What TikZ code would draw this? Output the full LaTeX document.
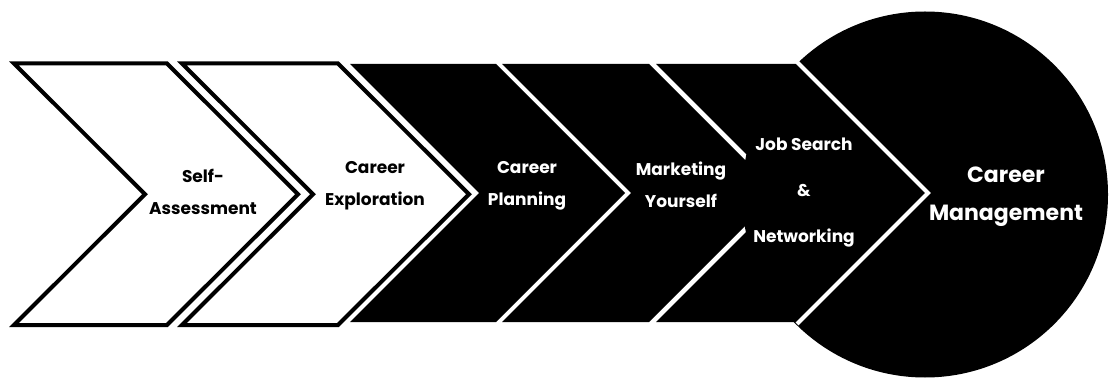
\documentclass[tikz,border=0pt]{standalone}
\usepackage{fontspec}
\setmainfont{Poppins}
\begin{document}
\begin{tikzpicture}[x=1pt,y=-1pt,
  wchev/.style={fill=white,draw=black,line width=4pt,line join=miter},
  bchev/.style={fill=black},
  sep/.style={draw=white,line width=4pt},
  lbl/.style={font=\bfseries\fontsize{17}{32}\selectfont,align=center,inner sep=0pt,text=black},
  lblw/.style={lbl,text=white},
]
\useasboundingbox (0,0) rectangle (1110,379);
% final stage circle
\fill[black] (925,194.5) circle (183pt);
% white chevrons
\path[wchev] (14,63.5) -- (167,63.5) -- (298,194.25) -- (167,325) -- (14,325) -- (145,194.25) -- cycle;
\path[wchev] (182,63.5) -- (338,63.5) -- (469,194.25) -- (338,325) -- (182,325) -- (313,194.25) -- cycle;
% black chevrons
\path[bchev] (350,64) -- (496,64) -- (625,193) -- (496,322) -- (350,322) -- (479,193) -- cycle;
\path[bchev] (502,64) -- (649,64) -- (778,193) -- (649,322) -- (502,322) -- (631,193) -- cycle;
\path[bchev] (656,64) -- (799,64) -- (928,193) -- (799,322) -- (656,322) -- (785,193) -- cycle;
\draw[sep] (797,62) -- (928,193) -- (797,324);
% labels
\node[lbl]  (t1) at (203,192) {Self-\\Assessment};
\node[lbl]  (t2) at (375,186) {Career\\Exploration};
\node[lblw] (t3) at (527,186) {Career\\Planning};
\node[lblw] (t4) at (681,185) {Marketing\\Yourself};
\node[lblw,font=\bfseries\fontsize{17}{46}\selectfont] (t5) at (804,193) {Job Search\\\&\\Networking};
\node[lblw,font=\bfseries\fontsize{22}{38}\selectfont] (t6) at (1006,197) {Career\\Management};
\end{tikzpicture}
\end{document}
